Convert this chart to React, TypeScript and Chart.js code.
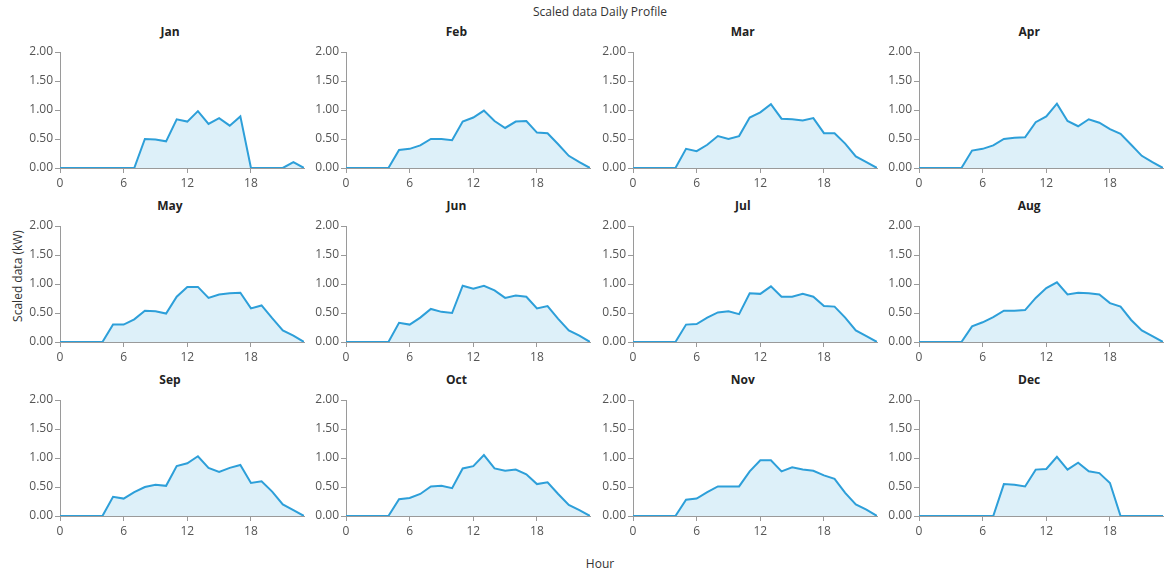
import React, { useEffect, useRef } from "react";
import { Chart, registerables } from "chart.js";

Chart.register(...registerables);

const hours = [0, 1, 2, 3, 4, 5, 6, 7, 8, 9, 10, 11, 12, 13, 14, 15, 16, 17, 18, 19, 20, 21, 22, 23];
const xTickValues = [0, 6, 12, 18];
const yTickValues = [0, 0.5, 1, 1.5, 2];
const monthNames = ["Jan", "Feb", "Mar", "Apr", "May", "Jun", "Jul", "Aug", "Sep", "Oct", "Nov", "Dec"];

const jan = [0, 0, 0, 0, 0, 0, 0, 0, 0.5, 0.49, 0.46, 0.84, 0.8, 0.98, 0.76, 0.86, 0.73, 0.89, 0, 0, 0, 0, 0.1, 0];
const feb = [0, 0, 0, 0, 0, 0.31, 0.33, 0.39, 0.5, 0.5, 0.48, 0.8, 0.87, 0.99, 0.81, 0.69, 0.8, 0.81, 0.61, 0.6, 0.41, 0.21, 0.1, 0];
const mar = [0, 0, 0, 0, 0, 0.33, 0.29, 0.4, 0.55, 0.5, 0.55, 0.87, 0.96, 1.1, 0.85, 0.84, 0.82, 0.86, 0.6, 0.6, 0.42, 0.2, 0.1, 0];
const apr = [0, 0, 0, 0, 0, 0.3, 0.33, 0.39, 0.5, 0.52, 0.53, 0.79, 0.89, 1.11, 0.81, 0.72, 0.84, 0.78, 0.67, 0.59, 0.4, 0.21, 0.1, 0];
const may = [0, 0, 0, 0, 0, 0.3, 0.3, 0.39, 0.54, 0.53, 0.49, 0.78, 0.95, 0.95, 0.76, 0.82, 0.84, 0.85, 0.58, 0.63, 0.41, 0.2, 0.11, 0];
const jun = [0, 0, 0, 0, 0, 0.33, 0.3, 0.42, 0.57, 0.52, 0.5, 0.97, 0.92, 0.97, 0.89, 0.76, 0.8, 0.78, 0.58, 0.62, 0.4, 0.2, 0.11, 0];
const jul = [0, 0, 0, 0, 0, 0.3, 0.31, 0.42, 0.51, 0.53, 0.48, 0.84, 0.83, 0.96, 0.78, 0.78, 0.83, 0.78, 0.62, 0.61, 0.42, 0.2, 0.1, 0];
const aug = [0, 0, 0, 0, 0, 0.27, 0.34, 0.43, 0.54, 0.54, 0.55, 0.76, 0.93, 1.03, 0.82, 0.85, 0.84, 0.82, 0.67, 0.61, 0.38, 0.2, 0.1, 0];
const sep = [0, 0, 0, 0, 0, 0.33, 0.3, 0.41, 0.5, 0.54, 0.52, 0.86, 0.91, 1.03, 0.83, 0.76, 0.83, 0.88, 0.57, 0.6, 0.42, 0.2, 0.1, 0];
const oct = [0, 0, 0, 0, 0, 0.29, 0.31, 0.38, 0.51, 0.52, 0.48, 0.82, 0.86, 1.05, 0.82, 0.78, 0.8, 0.72, 0.55, 0.58, 0.38, 0.19, 0.1, 0];
const nov = [0, 0, 0, 0, 0, 0.28, 0.3, 0.41, 0.51, 0.51, 0.51, 0.77, 0.96, 0.96, 0.77, 0.84, 0.8, 0.78, 0.7, 0.64, 0.4, 0.2, 0.11, 0];
const dec = [0, 0, 0, 0, 0, 0, 0, 0, 0.55, 0.54, 0.51, 0.8, 0.81, 1.02, 0.8, 0.92, 0.77, 0.74, 0.57, 0, 0, 0, 0, 0];

const monthSeries = [jan, feb, mar, apr, may, jun, jul, aug, sep, oct, nov, dec];

const FONT = "'Open Sans', 'Noto Sans', sans-serif";
const LINE = "#2d9fd9";
const FILL = "rgba(45,159,217,0.16)";
const AXIS = "#9a9a9a";
const TICK_TEXT = "#555555";

const COL_W = 286.4;
const ROW_H = 174;

export default function App() {
  const refs = useRef<(HTMLCanvasElement | null)[]>([]);

  useEffect(() => {
    const charts: Chart[] = [];
    monthSeries.forEach((series, i) => {
      const canvas = refs.current[i];
      if (!canvas) return;
      const chart = new Chart(canvas, {
        type: "line",
        data: {
          datasets: [
            {
              data: hours.map((h, k) => ({ x: h, y: series[k] })),
              borderColor: LINE,
              backgroundColor: FILL,
              borderWidth: 2,
              pointRadius: 0,
              fill: "origin",
              tension: 0,
            },
          ],
        },
        options: {
          animation: false,
          responsive: false,
          maintainAspectRatio: false,
          events: [],
          layout: { padding: { top: 30, left: 0, right: 2, bottom: 0 } },
          plugins: {
            legend: { display: false },
            tooltip: { enabled: false },
            title: { display: false },
          },
          scales: {
            x: {
              type: "linear",
              min: 0,
              max: 23,
              afterBuildTicks: (scale: any) => {
                scale.ticks = xTickValues.map((v) => ({ value: v }));
              },
              afterFit: (scale: any) => {
                scale.height = 24;
              },
              ticks: {
                color: TICK_TEXT,
                font: { family: FONT, size: 12 },
                padding: 3,
                maxRotation: 0,
                autoSkip: false,
              },
              grid: {
                display: true,
                drawOnChartArea: false,
                drawTicks: true,
                tickLength: 5,
                color: AXIS,
              },
              border: { display: true, color: AXIS, width: 1 },
            },
            y: {
              type: "linear",
              min: 0,
              max: 2,
              afterBuildTicks: (scale: any) => {
                scale.ticks = yTickValues.map((v) => ({ value: v }));
              },
              afterFit: (scale: any) => {
                scale.width = 40;
              },
              ticks: {
                color: TICK_TEXT,
                font: { family: FONT, size: 12 },
                padding: 2,
                callback: (v: any) => Number(v).toFixed(2),
              },
              grid: {
                display: true,
                drawOnChartArea: false,
                drawTicks: true,
                tickLength: 5,
                color: AXIS,
              },
              border: { display: true, color: AXIS, width: 1 },
            },
          },
        },
      } as any);
      charts.push(chart);
    });
    return () => charts.forEach((c) => c.destroy());
  }, []);

  return (
    <div
      style={{
        position: "fixed",
        left: 0,
        top: 0,
        width: 1175,
        height: 569,
        background: "#ffffff",
        fontFamily: FONT,
        overflow: "hidden",
      }}
    >
      <div
        style={{
          position: "absolute",
          left: 0,
          width: 1200,
          top: 5,
          textAlign: "center",
          fontSize: 12,
          lineHeight: "14px",
          color: "#333",
        }}
      >
        Scaled data Daily Profile
      </div>
      <div
        style={{
          position: "absolute",
          left: 17,
          top: 276,
          transform: "translate(-50%, -50%) rotate(-90deg)",
          whiteSpace: "nowrap",
          fontSize: 12,
          color: "#333",
        }}
      >
        Scaled data (kW)
      </div>
      <div
        style={{
          position: "absolute",
          left: 600,
          top: 563,
          transform: "translate(-50%, -50%)",
          fontSize: 12,
          color: "#333",
        }}
      >
        Hour
      </div>
      {monthNames.map((name, i) => {
        const col = i % 4;
        const row = Math.floor(i / 4);
        const left = 20 + COL_W * col;
        const top = 22 + ROW_H * row;
        return (
          <React.Fragment key={name}>
            <div
              style={{
                position: "absolute",
                left: left + 28,
                width: 244,
                top: top + 3,
                textAlign: "center",
                fontSize: 12,
                fontWeight: 700,
                lineHeight: "14px",
                color: "#222",
              }}
            >
              {name}
            </div>
            <canvas
              ref={(el) => {
                refs.current[i] = el;
              }}
              width={286}
              height={170}
              style={{ position: "absolute", left: Math.round(left), top, width: 286, height: 170 }}
            />
          </React.Fragment>
        );
      })}
    </div>
  );
}
